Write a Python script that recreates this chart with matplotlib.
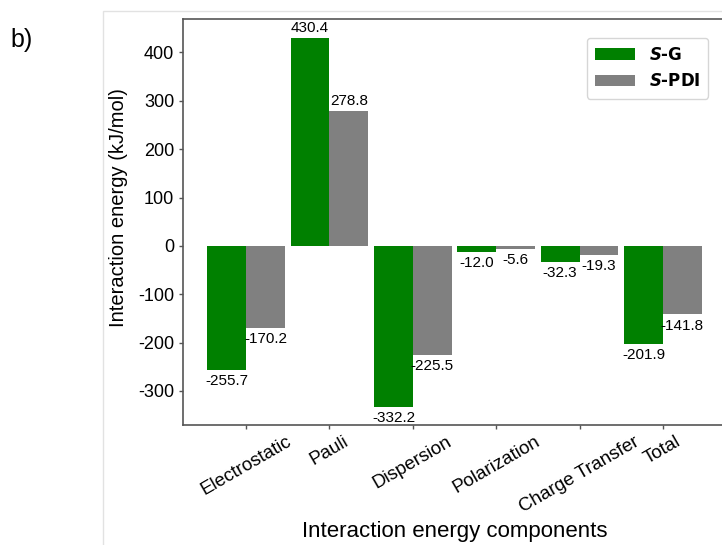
import matplotlib
matplotlib.use('Agg')
import matplotlib.pyplot as plt
import numpy as np
from matplotlib.patches import Rectangle

components = ['Electrostatic', 'Pauli', 'Dispersion', 'Polarization', 'Charge Transfer', 'Total']
sg = [-255.7, 430.4, -332.2, -12.0, -32.3, -201.9]
spdi = [-170.2, 278.8, -225.5, -5.6, -19.3, -141.8]
labels = [r'$\mathbfit{S}$-G', r'$\mathbfit{S}$-PDI']

plt.rcParams['font.family'] = ['Liberation Sans', 'DejaVu Sans']
plt.rcParams['axes.unicode_minus'] = False

W, H = 722, 545
fig = plt.figure(figsize=(W / 100, H / 100), dpi=100)

# light frame of the panel
fig.add_artist(Rectangle((103 / W, -0.1), 1.0, (H - 10.7) / H + 0.1, transform=fig.transFigure,
                         fill=False, edgecolor='#e2e2e2', linewidth=1.0))
fig.text(10 / W, 1 - 40 / H, 'b)', fontsize=18, va='center', ha='left')

ax = fig.add_axes([182.7 / W, (H - 425) / H, 543.6 / W, 405.7 / H])

x = np.arange(len(components))
width = 0.465
b1 = ax.bar(x - width / 2, sg, width, color='green', label=labels[0])
b2 = ax.bar(x + width / 2, spdi, width, color='gray', label=labels[1])

for bars in (b1, b2):
    for rect in bars:
        v = rect.get_height()
        cx = rect.get_x() + rect.get_width() / 2
        if v >= 0:
            ax.annotate(f'{v:.1f}', (cx, v), xytext=(0, 2), textcoords='offset points',
                        ha='center', va='bottom', fontsize=11)
        else:
            ax.annotate(f'{v:.1f}', (cx, v), xytext=(0, -3), textcoords='offset points',
                        ha='center', va='top', fontsize=11)

ax.set_xticks(x)
ax.set_xticklabels(components, rotation=30, ha='center', fontsize=13.5)
ax.set_yticks([-300, -200, -100, 0, 100, 200, 300, 400])
ax.tick_params(axis='y', labelsize=13)
ax.tick_params(length=3, width=1, color='#555555', pad=3)
ax.set_xlabel('Interaction energy components', fontsize=16)
ax.set_ylabel('Interaction energy (kJ/mol)', fontsize=14.5)
ax.yaxis.set_label_coords(-0.1, 0.535)
for s in ax.spines.values():
    s.set_color('#555555')
    s.set_linewidth(1.2)

leg = ax.legend(loc='upper right', bbox_to_anchor=(716.7 / W, 1 - 29.3 / H),
                bbox_transform=fig.transFigure, prop={'family': 'DejaVu Sans', 'weight': 'bold', 'size': 12},
                handlelength=2.4, borderpad=0.5)

fig.savefig('out.png', dpi=100)
